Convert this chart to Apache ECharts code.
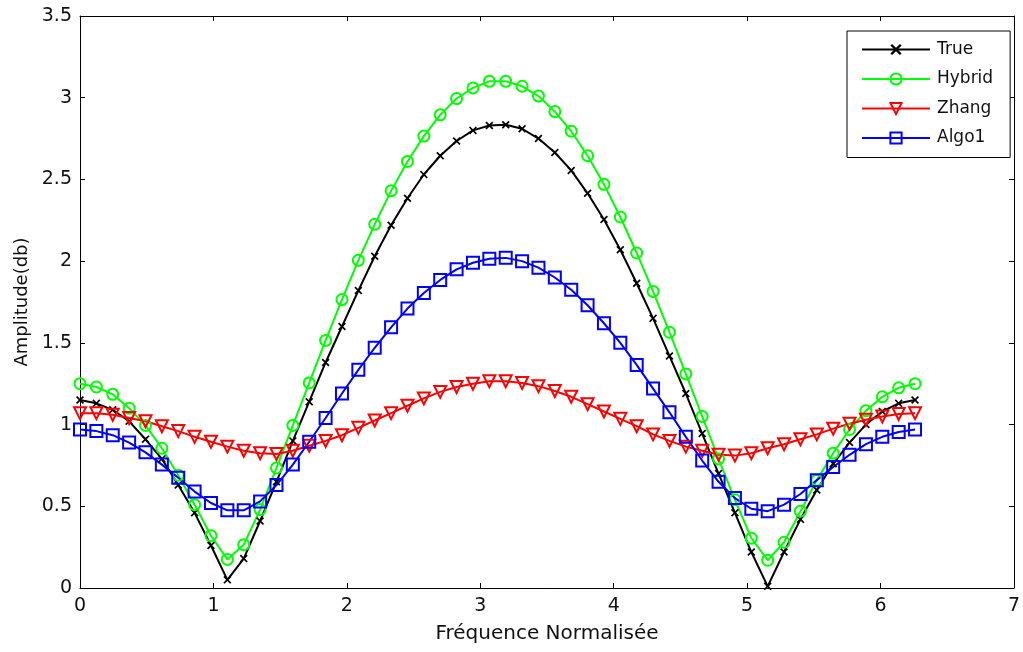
<!DOCTYPE html>
<html>
<head>
<meta charset="utf-8">
<title>Amplitude</title>
<script src="https://cdn.jsdelivr.net/npm/echarts@6/dist/echarts.min.js"></script>
<style>
  html, body { margin: 0; padding: 0; background: #fff; }
  #chart { width: 1023px; height: 652px; }
</style>
</head>
<body>
<div id="chart"></div>
<script>
// frequency grid
var freq = [0, 0.1227, 0.2454, 0.3682, 0.4909, 0.6136, 0.7363, 0.8590, 0.9817, 1.1045,
  1.2272, 1.3499, 1.4726, 1.5953, 1.7181, 1.8408, 1.9635, 2.0862, 2.2089, 2.3316,
  2.4544, 2.5771, 2.6998, 2.8225, 2.9452, 3.0680, 3.1907, 3.3134, 3.4361, 3.5588,
  3.6816, 3.8043, 3.9270, 4.0497, 4.1724, 4.2951, 4.4179, 4.5406, 4.6633, 4.7860,
  4.9087, 5.0315, 5.1542, 5.2769, 5.3996, 5.5223, 5.6450, 5.7678, 5.8905, 6.0132,
  6.1359, 6.2586];

var trueVals = [1.15, 1.13, 1.09, 1.02, 0.91, 0.79, 0.63, 0.46, 0.26, 0.05,
  0.18, 0.41, 0.65, 0.90, 1.14, 1.38, 1.60, 1.82, 2.03, 2.22,
  2.385, 2.53, 2.645, 2.735, 2.80, 2.83, 2.835, 2.81, 2.75, 2.665,
  2.555, 2.415, 2.255, 2.07, 1.865, 1.65, 1.42, 1.19, 0.945, 0.70,
  0.46, 0.22, 0.01, 0.22, 0.42, 0.60, 0.76, 0.89, 1.00, 1.08,
  1.13, 1.15];

var hybridVals = [1.25, 1.23, 1.185, 1.10, 0.995, 0.855, 0.69, 0.51, 0.32, 0.175,
  0.265, 0.48, 0.735, 0.995, 1.255, 1.515, 1.765, 2.005, 2.225, 2.43,
  2.61, 2.765, 2.895, 2.995, 3.06, 3.10, 3.10, 3.07, 3.01, 2.915,
  2.795, 2.645, 2.47, 2.27, 2.05, 1.815, 1.565, 1.31, 1.05, 0.79,
  0.54, 0.305, 0.17, 0.28, 0.47, 0.66, 0.825, 0.97, 1.085, 1.17,
  1.225, 1.25];

var zhangVals = [1.07, 1.07, 1.06, 1.04, 1.02, 0.99, 0.96, 0.925, 0.895, 0.865,
  0.84, 0.825, 0.82, 0.84, 0.87, 0.90, 0.935, 0.98, 1.025, 1.07,
  1.115, 1.16, 1.20, 1.23, 1.25, 1.265, 1.265, 1.255, 1.235, 1.205,
  1.17, 1.125, 1.08, 1.035, 0.99, 0.94, 0.90, 0.865, 0.84, 0.815,
  0.81, 0.825, 0.855, 0.88, 0.91, 0.94, 0.975, 1.005, 1.03, 1.05,
  1.065, 1.07];

var algoVals = [0.97, 0.96, 0.935, 0.89, 0.83, 0.755, 0.675, 0.59, 0.52, 0.475,
  0.475, 0.53, 0.63, 0.755, 0.895, 1.04, 1.19, 1.335, 1.47, 1.595,
  1.71, 1.805, 1.885, 1.95, 1.99, 2.015, 2.02, 2.00, 1.96, 1.90,
  1.825, 1.73, 1.62, 1.50, 1.365, 1.22, 1.075, 0.925, 0.78, 0.65,
  0.55, 0.485, 0.47, 0.51, 0.575, 0.66, 0.74, 0.815, 0.88, 0.925,
  0.955, 0.97];

var seriesNames = ['True', 'Hybrid', 'Zhang', 'Algo1'];

function pairs(vals) {
  return freq.map(function (f, i) { return [f, vals[i]]; });
}

var font = 'DejaVu Sans, Liberation Sans, Arial, sans-serif';
var crossPath = 'path://M0,1.5L1.5,0L5,3.5L8.5,0L10,1.5L6.5,5L10,8.5L8.5,10L5,6.5L1.5,10L0,8.5L3.5,5Z';

function axisBase(pos, isX) {
  var a = {
    type: 'value',
    position: pos,
    min: 0,
    max: isX ? 7 : 3.5,
    interval: isX ? 1 : 0.5,
    axisLine: { show: true, onZero: false, lineStyle: { color: '#000', width: 1 } },
    axisTick: { show: true, inside: true, length: 5, lineStyle: { color: '#000' } },
    splitLine: { show: false },
    axisLabel: { show: false }
  };
  return a;
}

var xBottom = axisBase('bottom', true);
xBottom.axisLabel = { show: true, color: '#111', fontSize: 19, fontFamily: font, margin: 9 };
xBottom.name = 'Fréquence Normalisée';
xBottom.nameLocation = 'middle';
xBottom.nameGap = 36;
xBottom.nameTextStyle = { color: '#111', fontSize: 20, fontFamily: font };

var yLeft = axisBase('left', false);
yLeft.axisLabel = { show: true, color: '#111', fontSize: 19, fontFamily: font, margin: 8 };
yLeft.name = 'Amplitude(db)';
yLeft.nameLocation = 'middle';
yLeft.nameGap = 48;
yLeft.nameTextStyle = { color: '#111', fontSize: 18, fontFamily: font };

var myChart = echarts.init(document.getElementById('chart'), null, { renderer: 'canvas' });

var option = {
  backgroundColor: '#fff',
  animation: false,
  grid: { left: 80, right: 6, top: 16, bottom: 64, containLabel: false },
  xAxis: [xBottom, axisBase('top', true)],
  yAxis: [yLeft, axisBase('right', false)],
  legend: {
    orient: 'vertical',
    left: 847,
    top: 31,
    padding: [10, 17, 11, 14],
    itemWidth: 68,
    itemHeight: 14,
    itemGap: 12.5,
    backgroundColor: '#fff',
    borderColor: '#000',
    borderWidth: 1,
    borderRadius: 0,
    textStyle: { color: '#111', fontSize: 17, fontFamily: font, padding: [0, 0, 0, 2] },
    data: seriesNames
  },
  series: [
    {
      name: seriesNames[0], type: 'line', clip: false,
      data: pairs(trueVals),
      symbol: crossPath, symbolSize: 8,
      lineStyle: { color: '#000', width: 2 },
      itemStyle: { color: '#000', borderWidth: 0 }
    },
    {
      name: seriesNames[1], type: 'line', clip: false,
      data: pairs(hybridVals),
      symbol: 'circle', symbolSize: 11,
      lineStyle: { color: '#00ff00', width: 2 },
      itemStyle: { color: 'rgba(255,255,255,0)', borderColor: '#00ff00', borderWidth: 2 }
    },
    {
      name: seriesNames[2], type: 'line', clip: false,
      data: pairs(zhangVals),
      symbol: 'triangle', symbolRotate: 180, symbolSize: 12,
      lineStyle: { color: '#ff0000', width: 2 },
      itemStyle: { color: 'rgba(255,255,255,0)', borderColor: '#ff0000', borderWidth: 2 }
    },
    {
      name: seriesNames[3], type: 'line', clip: false,
      data: pairs(algoVals),
      symbol: 'rect', symbolSize: 12,
      lineStyle: { color: '#0000ff', width: 2 },
      itemStyle: { color: 'rgba(255,255,255,0)', borderColor: '#0000ff', borderWidth: 2 }
    }
  ]
};

myChart.setOption(option);
window.addEventListener('resize', function () {
  myChart.resize();
});
</script>
</body>
</html>
